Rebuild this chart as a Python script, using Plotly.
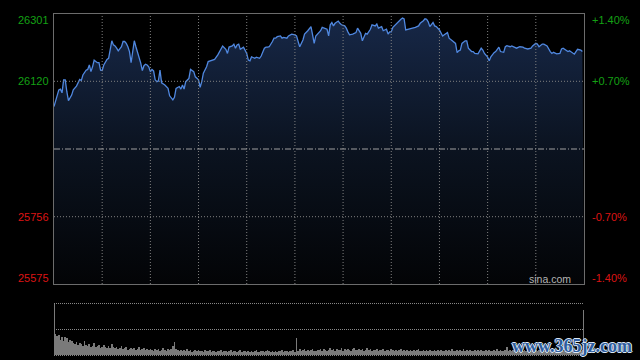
import plotly.graph_objects as go

# ---------------- data ----------------
prev_close = 25938
y_min, y_max = 25575, 26301
session_minutes = 330

price_ticks = [26301, 26120, 25756, 25575]
price_tick_labels = ["26301", "26120", "25756", "25575"]
pct_tick_labels = ["+1.40%", "+0.70%", "-0.70%", "-1.40%"]
grid_prices = [26120, 25756]
time_grid = [30, 60, 90, 120, 150, 180, 210, 240, 270, 300]

minutes = [
    0, 3, 4, 5, 6, 7, 8, 9, 11, 12,
    14, 16, 17, 18, 20, 21, 22, 23, 24, 25,
    27, 28, 29, 30, 31, 33, 34, 35, 36, 37,
    38, 39, 40, 42, 43, 44, 45, 46, 47, 48,
    49, 50, 51, 52, 53, 54, 55, 56, 57, 58,
    59, 60, 61, 62, 63, 64, 65, 66, 67, 69,
    71, 72, 74, 75, 76, 78, 79, 80, 81, 82,
    84, 85, 87, 88, 89, 90, 91, 92, 93, 95,
    96, 98, 100, 102, 104, 105, 107, 108, 109, 111,
    112, 113, 114, 115, 116, 118, 120, 121, 122, 123,
    125, 126, 128, 129, 131, 132, 133, 134, 136, 137,
    138, 139, 141, 142, 143, 145, 146, 148, 150, 151,
    152, 153, 155, 156, 158, 160, 161, 162, 163, 165,
    166, 167, 168, 170, 171, 172, 173, 174, 175, 176,
    177, 178, 179, 181, 182, 183, 184, 186, 188, 189,
    190, 191, 192, 193, 194, 195, 197, 198, 200, 201,
    202, 204, 205, 207, 208, 209, 210, 211, 213, 214,
    216, 217, 218, 219, 221, 222, 224, 225, 227, 228,
    230, 231, 232, 233, 234, 236, 237, 238, 240, 242,
    243, 245, 246, 247, 248, 250, 251, 252, 253, 254,
    256, 257, 258, 260, 261, 262, 264, 266, 267, 268,
    270, 271, 272, 274, 275, 277, 278, 280, 281, 282,
    284, 285, 287, 288, 290, 292, 293, 295, 297, 298,
    300, 301, 302, 304, 305, 307, 309, 310, 311, 313,
    315, 316, 317, 319, 320, 321, 323, 324, 325, 326,
    328, 329,
]

prices = [
    26052, 26097, 26099, 26089, 26124, 26124, 26092, 26068, 26083, 26097,
    26107, 26125, 26122, 26137, 26150, 26152, 26164, 26146, 26159, 26177,
    26170, 26170, 26150, 26149, 26164, 26179, 26182, 26204, 26229, 26218,
    26215, 26209, 26202, 26213, 26227, 26227, 26222, 26213, 26200, 26170,
    26204, 26229, 26213, 26200, 26186, 26169, 26149, 26162, 26166, 26164,
    26159, 26146, 26152, 26148, 26124, 26119, 26121, 26150, 26116, 26110,
    26101, 26081, 26070, 26077, 26101, 26106, 26099, 26110, 26099, 26119,
    26128, 26152, 26146, 26132, 26128, 26124, 26104, 26119, 26142, 26159,
    26173, 26175, 26179, 26191, 26209, 26215, 26206, 26195, 26212, 26215,
    26220, 26209, 26218, 26220, 26206, 26212, 26195, 26177, 26175, 26186,
    26182, 26185, 26182, 26188, 26209, 26212, 26212, 26213, 26227, 26236,
    26236, 26240, 26242, 26236, 26238, 26236, 26242, 26247, 26245, 26242,
    26227, 26213, 26231, 26247, 26256, 26267, 26245, 26222, 26242, 26251,
    26256, 26265, 26263, 26260, 26242, 26272, 26278, 26269, 26276, 26278,
    26282, 26276, 26272, 26269, 26263, 26253, 26245, 26247, 26251, 26263,
    26256, 26249, 26229, 26242, 26249, 26247, 26260, 26272, 26269, 26274,
    26263, 26267, 26256, 26260, 26247, 26253, 26253, 26265, 26274, 26280,
    26287, 26290, 26288, 26258, 26260, 26260, 26264, 26265, 26269, 26276,
    26283, 26288, 26287, 26280, 26267, 26278, 26269, 26267, 26258, 26242,
    26245, 26251, 26236, 26231, 26229, 26222, 26197, 26202, 26204, 26222,
    26229, 26229, 26209, 26200, 26200, 26195, 26194, 26209, 26204, 26195,
    26185, 26175, 26186, 26197, 26200, 26212, 26200, 26198, 26213, 26216,
    26213, 26215, 26212, 26209, 26213, 26212, 26209, 26207, 26209, 26215,
    26222, 26220, 26213, 26220, 26220, 26215, 26200, 26195, 26198, 26194,
    26195, 26207, 26209, 26204, 26200, 26202, 26197, 26193, 26200, 26206,
    26204, 26200,
]

# per-minute volume (relative units, minute 0 .. 330)
volume = [
    100,
    42, 38, 40, 30, 36, 28, 35, 33, 25, 30,
    27, 24, 22, 26, 20, 24, 22, 18, 27, 20,
    18, 22, 17, 19, 24, 16, 18, 21, 15, 17,
    20, 16, 14, 18, 15, 22, 16, 14, 17, 13,
    15, 18, 12, 14, 16, 11, 13, 15, 12, 14,
    11, 13, 16, 10, 12, 14, 11, 13, 10, 12,
    11, 9, 13, 10, 12, 9, 11, 14, 10, 9,
    12, 10, 13, 18, 26, 12, 10, 9, 11, 8,
    10, 9, 12, 8, 10, 7, 9, 11, 8, 10,
    8, 9, 7, 10, 8, 9, 11, 7, 8, 9,
    7, 9, 8, 10, 6, 8, 9, 7, 8, 10,
    7, 9, 8, 6, 8, 10, 7, 8, 9, 7,
    8, 6, 9, 7, 8, 10, 7, 6, 8, 9,
    7, 8, 10, 8, 7, 9, 6, 8, 7, 9,
    8, 10, 7, 9, 8, 6, 9, 8, 10, 7,
    33, 9, 12, 8, 10, 13, 9, 11, 8, 10,
    12, 9, 8, 11, 10, 12, 9, 13, 10, 8,
    11, 14, 10, 12, 9, 13, 11, 10, 14, 9,
    12, 10, 13, 11, 9, 12, 14, 10, 11, 13,
    10, 12, 9, 11, 14, 10, 12, 9, 11, 10,
    13, 9, 11, 10, 12, 8, 11, 10, 9, 12,
    10, 9, 11, 8, 10, 12, 9, 10, 8, 11,
    9, 10, 8, 11, 9, 10, 12, 8, 9, 10,
    8, 11, 9, 10, 8, 9, 11, 8, 10, 9,
    10, 8, 9, 11, 8, 10, 9, 12, 8, 9,
    11, 9, 10, 8, 12, 9, 10, 8, 11, 9,
    8, 10, 9, 11, 8, 10, 9, 8, 10, 9,
    11, 8, 9, 10, 8, 12, 9, 10, 8, 9,
    10, 16, 9, 11, 8, 10, 9, 12, 8, 10,
    9, 8, 11, 9, 10, 8, 9, 11, 8, 10,
    9, 11, 8, 10, 9, 8, 10, 9, 11, 8,
    10, 9, 8, 11, 9, 10, 8, 9, 10, 9,
    11, 9, 10, 8, 9, 10, 9, 8, 10,
    88,
]
vol_minutes = list(range(len(volume)))
vol_max = 100

assert len(minutes) == len(prices)

# ---------------- style ----------------
W, H = 640, 360
L, R = 54, 584
MAIN_TOP, MAIN_BOT = 14, 284
VOL_TOP, VOL_BOT = 304, 355
FONT = "Liberation Sans, Arial, sans-serif"
GREEN = "#14a014"
RED = "#dc1414"
GRID = "#808080"

fig = go.Figure()

fig.add_trace(go.Scatter(
    x=[0, session_minutes], y=[y_min, y_min], mode="lines",
    line=dict(width=0), hoverinfo="skip", showlegend=False,
))
fig.add_trace(go.Scatter(
    x=minutes, y=prices, mode="lines",
    line=dict(color="#5088e0", width=1.3),
    fill="tonexty",
    fillgradient=dict(type="vertical",
                      colorscale=[[0, "#030406"], [0.5, "#0b1320"], [1, "#172848"]],
                      start=y_min, stop=y_max),
    showlegend=False,
))
fig.add_trace(go.Bar(
    x=vol_minutes, y=volume, xaxis="x2", yaxis="y2",
    marker=dict(color="#7a7a7a", line=dict(width=0)),
    width=0.45, showlegend=False,
))

axis_common = dict(showticklabels=False, zeroline=False, ticks="", showgrid=False)
fig.update_layout(
    width=W, height=H,
    margin=dict(l=0, r=0, t=0, b=0),
    paper_bgcolor="#000000", plot_bgcolor="#000000",
    bargap=0,
    xaxis=dict(domain=[L / W, R / W], range=[0, session_minutes],
               showline=True, linecolor="#6c6c6c", linewidth=1, mirror=True,
               **axis_common),
    yaxis=dict(domain=[(H - MAIN_BOT) / H, (H - MAIN_TOP) / H],
               range=[y_min, y_max],
               showline=True, linecolor="#6c6c6c", linewidth=1, mirror=True,
               **axis_common),
    xaxis2=dict(domain=[L / W, R / W], range=[0, session_minutes],
                anchor="y2", showline=False, **axis_common),
    yaxis2=dict(domain=[(H - VOL_BOT - 1) / H, (H - VOL_TOP + 1) / H],
                range=[-1, vol_max + 1], anchor="x2",
                showline=False, **axis_common),
)

shapes = []
for t in time_grid:
    shapes.append(dict(type="line", xref="x", x0=t, x1=t, yref="y domain",
                       y0=0, y1=1, layer="above",
                       line=dict(color=GRID, width=1, dash="1px,2px")))
for p in grid_prices:
    shapes.append(dict(type="line", xref="x domain", x0=0, x1=1, yref="y",
                       y0=p, y1=p, layer="above",
                       line=dict(color=GRID, width=1, dash="1px,2px")))
shapes.append(dict(type="line", xref="x domain", x0=0, x1=1, yref="y",
                   y0=prev_close, y1=prev_close, layer="above",
                   line=dict(color="#a0a0a0", width=1, dash="6px,2px,1px,2px")))
for v in (0, vol_max / 2, vol_max):
    shapes.append(dict(type="line", xref="x2 domain", x0=0, x1=1, yref="y2",
                       y0=v, y1=v, layer="below",
                       line=dict(color="#8a8a8a", width=1, dash="1px,1px")))
fig.update_layout(shapes=shapes)

ann = []
for v, lab, pct in zip(price_ticks, price_tick_labels, pct_tick_labels):
    col = GREEN if v > prev_close else RED
    shift = -6 if v == y_max else (6 if v == y_min else 0)
    ann.append(dict(x=(L - 3) / W, xref="paper", xanchor="right",
                    y=v, yref="y", yanchor="middle", yshift=shift,
                    text=lab, showarrow=False,
                    font=dict(family=FONT, size=11, color=col)))
    ann.append(dict(x=(R + 6) / W, xref="paper", xanchor="left",
                    y=v, yref="y", yanchor="middle", yshift=shift,
                    text=pct, showarrow=False,
                    font=dict(family=FONT, size=11, color=col)))
ann.append(dict(x=(R - 11) / W, xref="paper", xanchor="right",
                y=(H - 279) / H, yref="paper", yanchor="middle",
                text="sina.com", showarrow=False,
                font=dict(family=FONT, size=10.5, color="#b4b4b4")))
ann.append(dict(x=634 / W, xref="paper", xanchor="right",
                y=(H - 346) / H, yref="paper", yanchor="middle",
                text="www.365jz.com", showarrow=False,
                font=dict(family="Liberation Serif, serif", size=18,
                          color="#2d5d9f", weight="bold",
                          shadow="1px 0 0 #dfe8f5, -1px 0 0 #dfe8f5, 0 1px 0 #dfe8f5, 0 -1px 0 #dfe8f5")))
fig.update_layout(annotations=ann)

fig.write_html("out.html", config={"displayModeBar": False},
               post_script="document.body.style.margin='0';")
